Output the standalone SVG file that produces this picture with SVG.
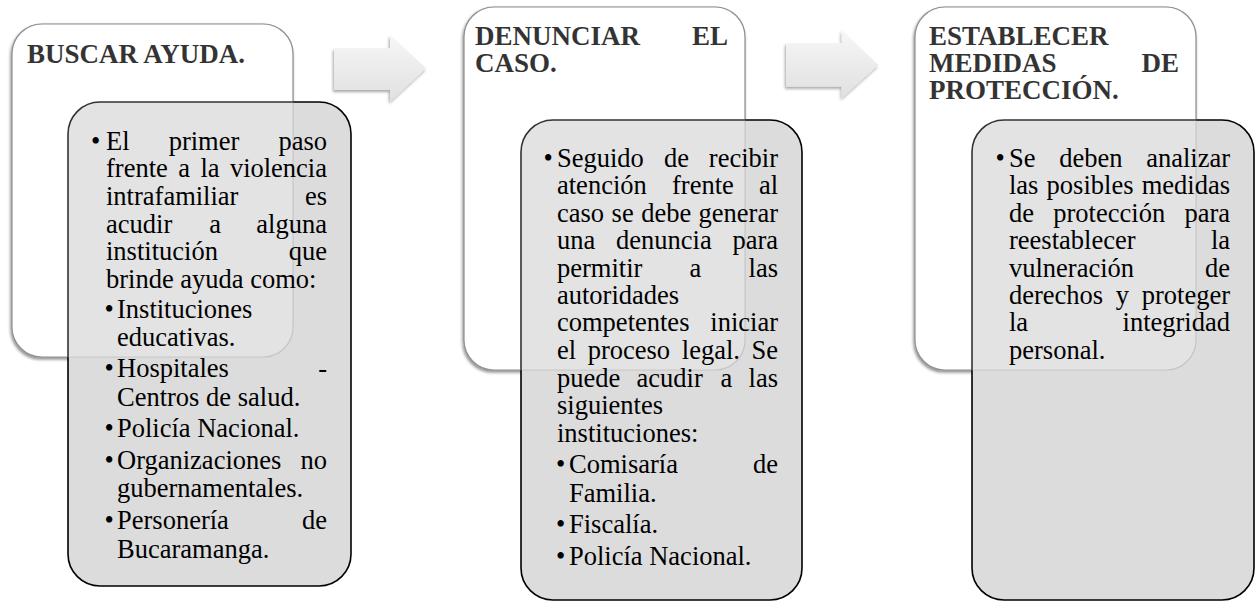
<svg xmlns="http://www.w3.org/2000/svg" width="1259" height="602" viewBox="0 0 1259 602">
<defs>
<linearGradient id="arrowGrad" x1="0" y1="0" x2="0" y2="1">
<stop offset="0" stop-color="#f7f7f7"/>
<stop offset="1" stop-color="#e0e0e0"/>
</linearGradient>
<filter id="shadow" x="-10%" y="-10%" width="120%" height="120%">
<feDropShadow dx="-1" dy="2" stdDeviation="1.5" flood-color="#000" flood-opacity="0.45"/>
</filter>
<filter id="arrowShadow" x="-20%" y="-20%" width="140%" height="140%">
<feDropShadow dx="-1" dy="2" stdDeviation="1.5" flood-color="#000" flood-opacity="0.35"/>
</filter>
</defs>
<style>
.card{fill:#ffffff;stroke:#8c8c8c;stroke-width:1.2;filter:url(#shadow)}
.detail{fill:#dcdcdc;stroke:#000000;stroke-width:1.6}
.veil{fill:#ffffff;fill-opacity:0.2;stroke:#8c8c8c;stroke-opacity:0.3;stroke-width:1.2}
.title{font-family:"Liberation Serif","Times New Roman",serif;font-weight:bold;font-size:27px;fill:#000}
.body{font-family:"Liberation Serif","Times New Roman",serif;font-size:26.5px;fill:#000}
.end{text-anchor:end}
.arrow{fill:url(#arrowGrad);filter:url(#arrowShadow)}
</style>
<rect width="1259" height="602" fill="#ffffff"/>

<g id="connectors">
<path class="arrow" d="M334,48.3 H390 V35 L426,68.3 L390,101.7 V90 H334 Z"/>
<path class="arrow" d="M786,43.3 H841.7 V30 L878.3,65 L841.7,98.3 V86.7 H786 Z"/>
</g>

<g id="step1">
<rect class="card" x="12" y="24" width="281" height="333" rx="30"/>
<text class="title" x="27" y="63">BUSCAR AYUDA.</text>
</g>
<g id="detail1">
<rect class="detail" x="68" y="102" width="283" height="484" rx="32"/>
<rect class="veil" x="12" y="24" width="281" height="333" rx="30"/>
<g class="body">
<text x="91" y="149.5">•</text>
<text x="106" y="149.5">El</text><text x="168.7" y="149.5">primer</text><text class="end" x="327" y="149.5">paso</text>
<text x="106" y="177.2">frente</text><text x="178.2" y="177.2">a</text><text x="200.4" y="177.2">la</text><text class="end" x="327" y="177.2">violencia</text>
<text x="106" y="204.9">intrafamiliar</text><text class="end" x="327" y="204.9">es</text>
<text x="106" y="232.5">acudir</text><text x="209.2" y="232.5">a</text><text class="end" x="327" y="232.5">alguna</text>
<text x="106" y="260.2">institución</text><text class="end" x="327" y="260.2">que</text>
<text x="106" y="287.5">brinde ayuda como:</text>
<text x="104.5" y="317.5">•</text><text x="117" y="317.5">Instituciones</text>
<text x="117" y="345.5">educativas.</text>
<text x="104.5" y="377">•</text><text x="117" y="377">Hospitales</text><text class="end" x="327" y="377">-</text>
<text x="117" y="405.5">Centros de salud.</text>
<text x="104.5" y="437">•</text><text x="117" y="437">Policía Nacional.</text>
<text x="104.5" y="469">•</text><text x="117" y="469">Organizaciones</text><text class="end" x="327" y="469">no</text>
<text x="117" y="497">gubernamentales.</text>
<text x="104.5" y="529">•</text><text x="117" y="529">Personería</text><text class="end" x="327" y="529">de</text>
<text x="117" y="557.5">Bucaramanga.</text>
</g>
</g>

<g id="step2">
<rect class="card" x="464" y="7" width="281" height="363" rx="30"/>
<text class="title" x="475" y="45">DENUNCIAR</text><text class="title end" x="728" y="45">EL</text>
<text class="title" x="475" y="71.7">CASO.</text>
</g>
<g id="detail2">
<rect class="detail" x="521" y="120" width="281" height="480" rx="32"/>
<rect class="veil" x="464" y="7" width="281" height="363" rx="30"/>
<g class="body">
<text x="543.5" y="166.7">•</text>
<text x="557" y="166.7">Seguido</text><text x="663.9" y="166.7">de</text><text class="end" x="778" y="166.7">recibir</text>
<text x="557" y="194.2">atención</text><text x="672" y="194.2">frente</text><text class="end" x="778" y="194.2">al</text>
<text x="557" y="221.7">caso</text><text x="611.6" y="221.7">se</text><text x="641.2" y="221.7">debe</text><text class="end" x="778" y="221.7">generar</text>
<text x="557" y="249.3">una</text><text x="616" y="249.3">denuncia</text><text class="end" x="778" y="249.3">para</text>
<text x="557" y="276.8">permitir</text><text x="689.6" y="276.8">a</text><text class="end" x="778" y="276.8">las</text>
<text x="557" y="303.5">autoridades</text>
<text x="557" y="331">competentes</text><text class="end" x="778" y="331">iniciar</text>
<text x="557" y="359">el</text><text x="587.7" y="359">proceso</text><text x="681.8" y="359">legal.</text><text class="end" x="778" y="359">Se</text>
<text x="557" y="386.7">puede</text><text x="636.6" y="386.7">acudir</text><text x="720.6" y="386.7">a</text><text class="end" x="778" y="386.7">las</text>
<text x="557" y="413.5">siguientes</text>
<text x="557" y="441.7">instituciones:</text>
<text x="556" y="473.3">•</text><text x="569" y="473.3">Comisaría</text><text class="end" x="778" y="473.3">de</text>
<text x="569" y="501.7">Familia.</text>
<text x="556" y="533.3">•</text><text x="569" y="533.3">Fiscalía.</text>
<text x="556" y="565">•</text><text x="569" y="565">Policía Nacional.</text>
</g>
</g>

<g id="step3">
<rect class="card" x="915" y="7" width="281" height="363" rx="30"/>
<text class="title" x="929" y="45">ESTABLECER</text>
<text class="title" x="929" y="71.7">MEDIDAS</text><text class="title end" x="1179" y="71.7">DE</text>
<text class="title" x="929" y="99.3">PROTECCIÓN.</text>
</g>
<g id="detail3">
<rect class="detail" x="972" y="120" width="282" height="480" rx="32"/>
<rect class="veil" x="915" y="7" width="281" height="363" rx="30"/>
<g class="body">
<text x="995.5" y="166.7">•</text>
<text x="1009" y="166.7">Se</text><text x="1059.2" y="166.7">deben</text><text class="end" x="1230" y="166.7">analizar</text>
<text x="1009" y="194.2">las</text><text x="1046.6" y="194.2">posibles</text><text class="end" x="1230" y="194.2">medidas</text>
<text x="1009" y="221.7">de</text><text x="1053.3" y="221.7">protección</text><text class="end" x="1230" y="221.7">para</text>
<text x="1009" y="249.3">reestablecer</text><text class="end" x="1230" y="249.3">la</text>
<text x="1009" y="276.8">vulneración</text><text class="end" x="1230" y="276.8">de</text>
<text x="1009" y="303.5">derechos</text><text x="1115.8" y="303.5">y</text><text class="end" x="1230" y="303.5">proteger</text>
<text x="1009" y="331">la</text><text class="end" x="1230" y="331">integridad</text>
<text x="1009" y="359">personal.</text>
</g>
</g>
</svg>
